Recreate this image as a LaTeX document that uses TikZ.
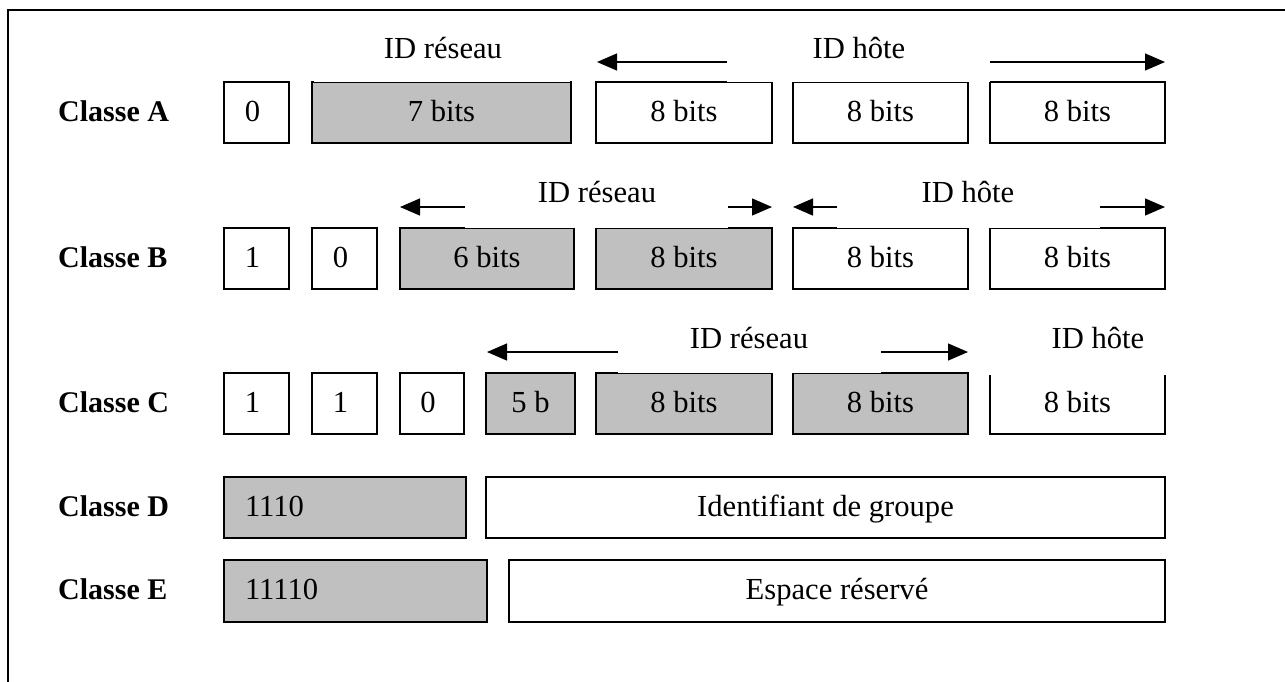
\documentclass[tikz,border=0pt]{standalone}
\usepackage{fontspec}
\setmainfont{Liberation Serif}
\usetikzlibrary{arrows.meta}
\definecolor{fieldgray}{RGB}{192,192,192}
\begin{document}
\begin{tikzpicture}[x=1pt,y=-1pt,
  every node/.style={font=\fontsize{30.6}{36}\selectfont},
  fieldbox/.style={draw=black, line width=1.5pt, inner sep=0pt,
    text height=17pt, text depth=0pt, minimum height=61pt},
  netbox/.style={fieldbox, fill=fieldgray},
  hostbox/.style={fieldbox, fill=white},
  prefixbox/.style={netbox, align=left, inner xsep=21pt},
  classlbl/.style={anchor=base west, inner sep=0pt,
    font=\fontsize{30}{36}\selectfont\bfseries},
  partlbl/.style={anchor=base, inner sep=0pt},
  spanarrow/.style={line width=1.3pt, -{Triangle[length=20pt,width=17pt]}},
  labelpad/.style={fill=white}
]
\useasboundingbox (0,0) rectangle (1285,681);

% outer frame (open to the right and bottom)
\draw[line width=1.8pt] (8,700) -- (8,10) -- (1300,10);

% class names
\node[classlbl] (nA) at (58,121) {Classe A};
\node[classlbl] (nB) at (58,267) {Classe B};
\node[classlbl] (nC) at (58,412) {Classe C};
\node[classlbl] (nD) at (58,516) {Classe D};
\node[classlbl] (nE) at (58,599) {Classe E};

% class A fields
\node[hostbox, minimum width=65pt]  (a0) at (256.5,112.5) {0\kern8pt};
\node[netbox,  minimum width=259pt] (a1) at (441.5,112.5) {7 bits};
\node[hostbox, minimum width=176pt] (a2) at (684,112.5)   {8 bits};
\node[hostbox, minimum width=175pt] (a3) at (880.5,112.5) {8 bits};
\node[hostbox, minimum width=175pt] (a4) at (1077.5,112.5){8 bits};

% class B fields
\node[hostbox, minimum width=65pt]  (b0) at (256.5,258.5) {1\kern8pt};
\node[hostbox, minimum width=65pt]  (b1) at (344.5,258.5) {0\kern8pt};
\node[netbox,  minimum width=174pt] (b2) at (487,258.5)   {6 bits};
\node[netbox,  minimum width=176pt] (b3) at (684,258.5)   {8 bits};
\node[hostbox, minimum width=175pt] (b4) at (880.5,258.5) {8 bits};
\node[hostbox, minimum width=175pt] (b5) at (1077.5,258.5){8 bits};

% class C fields
\node[hostbox, minimum width=65pt]  (c0) at (256.5,403.5) {1\kern8pt};
\node[hostbox, minimum width=65pt]  (c1) at (344.5,403.5) {1\kern8pt};
\node[hostbox, minimum width=64pt]  (c2) at (432,403.5)   {0\kern8pt};
\node[netbox,  minimum width=89pt]  (c3) at (530.5,403.5) {5 b};
\node[netbox,  minimum width=176pt] (c4) at (684,403.5)   {8 bits};
\node[netbox,  minimum width=175pt] (c5) at (880.5,403.5) {8 bits};
\node[hostbox, minimum width=175pt] (c6) at (1077.5,403.5){8 bits};

% class D fields
\node[prefixbox, text width=200pt] (d0) at (345,507.5) {1110};
\node[hostbox, minimum width=679pt] (d1) at (825.5,507.5) {Identifiant de groupe};

% class E fields
\node[prefixbox, text width=221pt, minimum height=62pt] (e0) at (355.5,591) {11110};
\node[hostbox, minimum width=656pt, minimum height=62pt] (e1) at (837,591) {Espace réservé};

% white text frames of the span labels, lying over the field tops
\fill[labelpad] (314,25) rectangle (570,82);
\fill[labelpad] (727,25) rectangle (990,82);
\fill[labelpad] (465,170) rectangle (728,228);
\fill[labelpad] (837,170) rectangle (1100,228);
\fill[labelpad] (618,315) rectangle (881,373);
\fill[labelpad] (988,315) rectangle (1168,374.6);

% span labels
\node[partlbl] (lAnet)  at (443,58)   {ID réseau};
\node[partlbl] (lAhost) at (859,58)   {ID hôte};
\node[partlbl] (lBnet)  at (597,202)  {ID réseau};
\node[partlbl] (lBhost) at (968,202)  {ID hôte};
\node[partlbl] (lCnet)  at (749,348)  {ID réseau};
\node[partlbl] (lChost) at (1098,348) {ID hôte};

% span arrows: start and tip points
\coordinate (aHL0) at (727,62);  \coordinate (aHL1) at (597,62);
\coordinate (aHR0) at (990,62);  \coordinate (aHR1) at (1165,62);
\coordinate (bNL0) at (465,207); \coordinate (bNL1) at (400,207);
\coordinate (bNR0) at (728,207); \coordinate (bNR1) at (772,207);
\coordinate (bHL0) at (837,207); \coordinate (bHL1) at (793,207);
\coordinate (bHR0) at (1100,207);\coordinate (bHR1) at (1165,207);
\coordinate (cNL0) at (618,352); \coordinate (cNL1) at (487,352);
\coordinate (cNR0) at (881,352); \coordinate (cNR1) at (968,352);

\draw[spanarrow] (aHL0) -- (aHL1);
\draw[spanarrow] (aHR0) -- (aHR1);
\draw[spanarrow] (bNL0) -- (bNL1);
\draw[spanarrow] (bNR0) -- (bNR1);
\draw[spanarrow] (bHL0) -- (bHL1);
\draw[spanarrow] (bHR0) -- (bHR1);
\draw[spanarrow] (cNL0) -- (cNL1);
\draw[spanarrow] (cNR0) -- (cNR1);
\end{tikzpicture}
\end{document}
